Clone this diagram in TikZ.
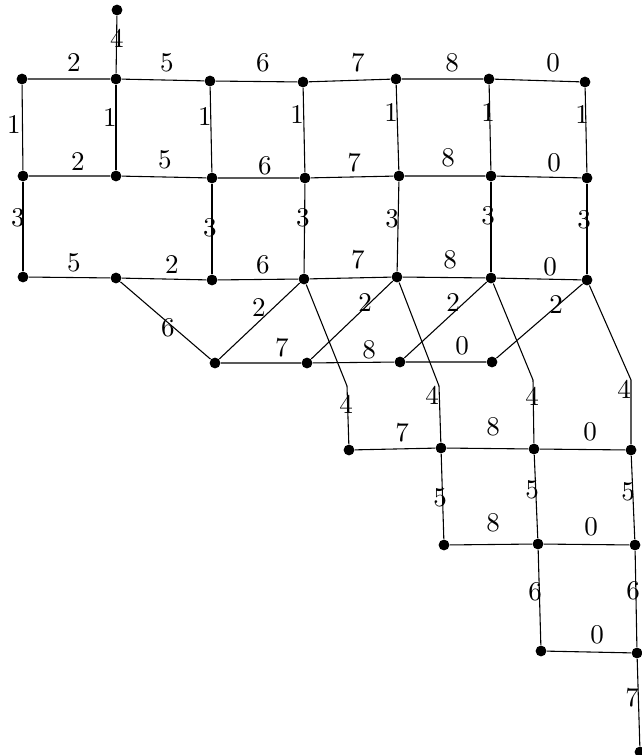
\documentclass[tikz,border=0pt]{standalone}
\usepackage{amsfonts, amssymb, amsmath}
\usepackage{tikz}

\begin{document}
\begin{tikzpicture}[x=0.37pt, y=-0.37pt,
    vertex/.style={circle, fill=black, inner sep=0pt, minimum size=4pt},
    wt/.style={inner sep=0pt}]
    \useasboundingbox (0,0) rectangle (641,755);

    \node[vertex] (t) at (117,10) {};
    \node[vertex] (a1) at (22,79) {};
    \node[vertex] (a2) at (116,79) {};
    \node[vertex] (a3) at (210,81) {};
    \node[vertex] (a4) at (303,82) {};
    \node[vertex] (a5) at (396,79) {};
    \node[vertex] (a6) at (489,79) {};
    \node[vertex] (a7) at (585,82) {};
    \node[vertex] (b1) at (23,176) {};
    \node[vertex] (b2) at (116,176) {};
    \node[vertex] (b3) at (212,178) {};
    \node[vertex] (b4) at (305,178) {};
    \node[vertex] (b5) at (399,176) {};
    \node[vertex] (b6) at (491,176) {};
    \node[vertex] (b7) at (587,178) {};
    \node[vertex] (c1) at (23,277) {};
    \node[vertex] (c2) at (116,278) {};
    \node[vertex] (c3) at (212,280) {};
    \node[vertex] (c4) at (304,279) {};
    \node[vertex] (c5) at (397,277) {};
    \node[vertex] (c6) at (491,278) {};
    \node[vertex] (c7) at (587,280) {};
    \node[vertex] (d1) at (215,363) {};
    \node[vertex] (d2) at (307,363) {};
    \node[vertex] (d3) at (400,362) {};
    \node[vertex] (d4) at (492,362) {};
    \coordinate (k1) at (347,386);
    \coordinate (k2) at (439,386);
    \coordinate (k3) at (533,380);
    \coordinate (k4) at (631,380);
    \node[vertex] (e1) at (349,450) {};
    \node[vertex] (e2) at (441,448) {};
    \node[vertex] (e3) at (534,449) {};
    \node[vertex] (e4) at (631,450) {};
    \node[vertex] (f1) at (444,545) {};
    \node[vertex] (f2) at (538,544) {};
    \node[vertex] (f3) at (635,545) {};
    \node[vertex] (g1) at (541,651) {};
    \node[vertex] (g2) at (637,653) {};
    \node[vertex] (h) at (640,752) {};

    \draw (t) -- (a2);
    \draw (a1) -- (a2) -- (a3) -- (a4) -- (a5) -- (a6) -- (a7);
    \draw (b1) -- (b2) -- (b3) -- (b4) -- (b5) -- (b6) -- (b7);
    \draw (c1) -- (c2) -- (c3) -- (c4) -- (c5) -- (c6) -- (c7);
    \draw (d1) -- (d2) -- (d3) -- (d4);
    \draw (e1) -- (e2) -- (e3) -- (e4);
    \draw (f1) -- (f2) -- (f3);
    \draw (g1) -- (g2);
    \draw (a1) -- (b1);
    \draw (a2) -- (b2);
    \draw (a3) -- (b3);
    \draw (a4) -- (b4);
    \draw (a5) -- (b5);
    \draw (a6) -- (b6);
    \draw (a7) -- (b7);
    \draw (b1) -- (c1);
    \draw (b3) -- (c3);
    \draw (b4) -- (c4);
    \draw (b5) -- (c5);
    \draw (b6) -- (c6);
    \draw (b7) -- (c7);
    \draw (c2) -- (d1);
    \draw (c4) -- (d1);
    \draw (c5) -- (d2);
    \draw (c6) -- (d3);
    \draw (c7) -- (d4);
    \draw (c4) -- (k1) -- (e1);
    \draw (c5) -- (k2) -- (e2);
    \draw (c6) -- (k3) -- (e3);
    \draw (c7) -- (k4) -- (e4);
    \draw (e2) -- (f1);
    \draw (e3) -- (f2);
    \draw (e4) -- (f3);
    \draw (f2) -- (g1);
    \draw (f3) -- (g2);
    \draw (g2) -- (h);

    \node[wt] (wt-t) at (117,38) {4};
    \node[wt] (wa12) at (74,63) {2};
    \node[wt] (wa23) at (167,63) {5};
    \node[wt] (wa34) at (263,63) {6};
    \node[wt] (wa45) at (358,63) {7};
    \node[wt] (wa56) at (452,63) {8};
    \node[wt] (wa67) at (553,63) {0};
    \node[wt] (wab1) at (14,125) {1};
    \node[wt] (wab2) at (110,118) {1};
    \node[wt] (wab3) at (205,117) {1};
    \node[wt] (wab4) at (297,115) {1};
    \node[wt] (wab5) at (391,113) {1};
    \node[wt] (wab6) at (488,113) {1};
    \node[wt] (wab7) at (582,115) {1};
    \node[wt] (wb12) at (78,162) {2};
    \node[wt] (wb23) at (165,160) {5};
    \node[wt] (wb34) at (265,166) {6};
    \node[wt] (wb45) at (354,163) {7};
    \node[wt] (wb56) at (448,158) {8};
    \node[wt] (wb67) at (554,163) {0};
    \node[wt] (wbc1) at (18,218) {3};
    \node[wt] (wbc3) at (210,228) {3};
    \node[wt] (wbc4) at (303,218) {3};
    \node[wt] (wbc5) at (392,219) {3};
    \node[wt] (wbc6) at (488,216) {3};
    \node[wt] (wbc7) at (584,220) {3};
    \node[wt] (wc12) at (74,263) {5};
    \node[wt] (wc23) at (172,265) {2};
    \node[wt] (wc34) at (263,265) {6};
    \node[wt] (wc45) at (358,260) {7};
    \node[wt] (wc56) at (450,260) {8};
    \node[wt] (wc67) at (550,267) {0};
    \node[wt] (wcd1) at (168,328) {6};
    \node[wt] (wcd2) at (259,308) {2};
    \node[wt] (wcd3) at (365,303) {2};
    \node[wt] (wcd4) at (453,303) {2};
    \node[wt] (wcd5) at (556,305) {2};
    \node[wt] (wd12) at (282,348) {7};
    \node[wt] (wd23) at (369,350) {8};
    \node[wt] (wd34) at (462,346) {0};
    \node[wt] (wce1) at (346,404) {4};
    \node[wt] (wce2) at (432,395) {4};
    \node[wt] (wce3) at (532,396) {4};
    \node[wt] (wce4) at (624,389) {4};
    \node[wt] (we12) at (402,433) {7};
    \node[wt] (we23) at (493,427) {8};
    \node[wt] (we34) at (590,432) {0};
    \node[wt] (wef1) at (440,498) {5};
    \node[wt] (wef2) at (532,490) {5};
    \node[wt] (wef3) at (628,492) {5};
    \node[wt] (wf12) at (493,523) {8};
    \node[wt] (wf23) at (591,527) {0};
    \node[wt] (wfg1) at (535,592) {6};
    \node[wt] (wfg2) at (633,591) {6};
    \node[wt] (wg12) at (597,635) {0};
    \node[wt] (wgh) at (632,698) {7};
\end{tikzpicture}
\end{document}
